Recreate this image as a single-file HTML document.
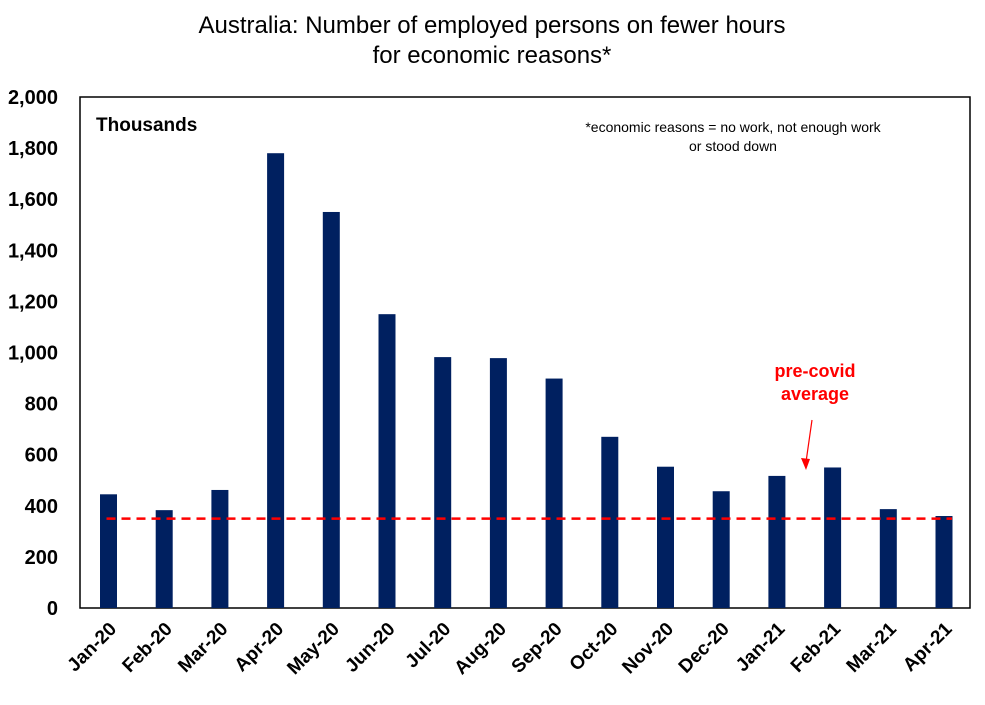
<!DOCTYPE html>
<html><head><meta charset="utf-8"><style>
body{margin:0;background:#fff;}
svg text{font-family:"Liberation Sans",Arial,sans-serif;}
</style></head><body>
<svg width="985" height="700" viewBox="0 0 985 700" xmlns="http://www.w3.org/2000/svg">
<rect width="985" height="700" fill="#fff"/>
<text x="492" y="33" text-anchor="middle" font-size="24" fill="#000">Australia: Number of employed persons on fewer hours</text>
<text x="492" y="63" text-anchor="middle" font-size="24" fill="#000">for economic reasons*</text>
<rect x="80" y="97" width="890" height="511" fill="none" stroke="#000" stroke-width="1.5"/>
<text x="96" y="131" font-size="19" font-weight="bold">Thousands</text>
<text x="733" y="132" text-anchor="middle" font-size="14">*economic reasons = no work, not enough work</text>
<text x="733" y="151" text-anchor="middle" font-size="14">or stood down</text>
<g id="yaxis"></g>
<g id="bars"></g>
<g id="xaxis"></g>
<line id="avg" stroke="#ff0000" stroke-width="2.5" stroke-dasharray="9,6"/>
<text x="815" y="377" text-anchor="middle" font-size="18" font-weight="bold" fill="#ff0000">pre-covid</text>
<text x="815" y="400" text-anchor="middle" font-size="18" font-weight="bold" fill="#ff0000">average</text>
<line x1="812" y1="420" x2="806" y2="462" stroke="#ff0000" stroke-width="1.2"/>
<polygon points="801,458 806,470 810,459" fill="#ff0000"/>
</svg>
<script>
const categories=["Jan-20","Feb-20","Mar-20","Apr-20","May-20","Jun-20","Jul-20","Aug-20","Sep-20","Oct-20","Nov-20","Dec-20","Jan-21","Feb-21","Mar-21","Apr-21"];
const values=[445,383,462,1780,1550,1150,982,978,898,670,553,457,517,550,387,360];
const avgValue=[350];
const yTicks=[0,200,400,600,800,1000,1200,1400,1600,1800,2000];
const yTickLabels=["0","200","400","600","800","1,000","1,200","1,400","1,600","1,800","2,000"];
const NS="http://www.w3.org/2000/svg";
const y=v=>608-v*511/2000;
const x=i=>108.5+i*55.7;
const yg=document.getElementById('yaxis'),bg=document.getElementById('bars'),xg=document.getElementById('xaxis');
yTicks.forEach((t,i)=>{const e=document.createElementNS(NS,'text');


e.setAttribute('x',58);e.setAttribute('y',y(t)+7);e.setAttribute('text-anchor','end');e.setAttribute('font-size','20');e.setAttribute('font-weight','bold');e.textContent=yTickLabels[i];yg.appendChild(e);});
values.forEach((v,i)=>{const r=document.createElementNS(NS,'rect');


r.setAttribute('x',x(i)-8.5);r.setAttribute('width',17);r.setAttribute('y',y(v));r.setAttribute('height',608-y(v));r.setAttribute('fill','#002060');bg.appendChild(r);
const t=document.createElementNS(NS,'text');


const cx=x(i)+9,cy=630;t.setAttribute('x',cx);t.setAttribute('y',cy);t.setAttribute('text-anchor','end');t.setAttribute('font-size','19');t.setAttribute('font-weight','bold');t.setAttribute('transform','rotate(-45 '+cx+' '+cy+')');t.textContent=categories[i];xg.appendChild(t);});
const a=document.getElementById('avg');a.setAttribute('x1',x(0)-2);a.setAttribute('x2',x(15)+8);a.setAttribute('y1',y(avgValue[0]));a.setAttribute('y2',y(avgValue[0]));
</script>
</body></html>
